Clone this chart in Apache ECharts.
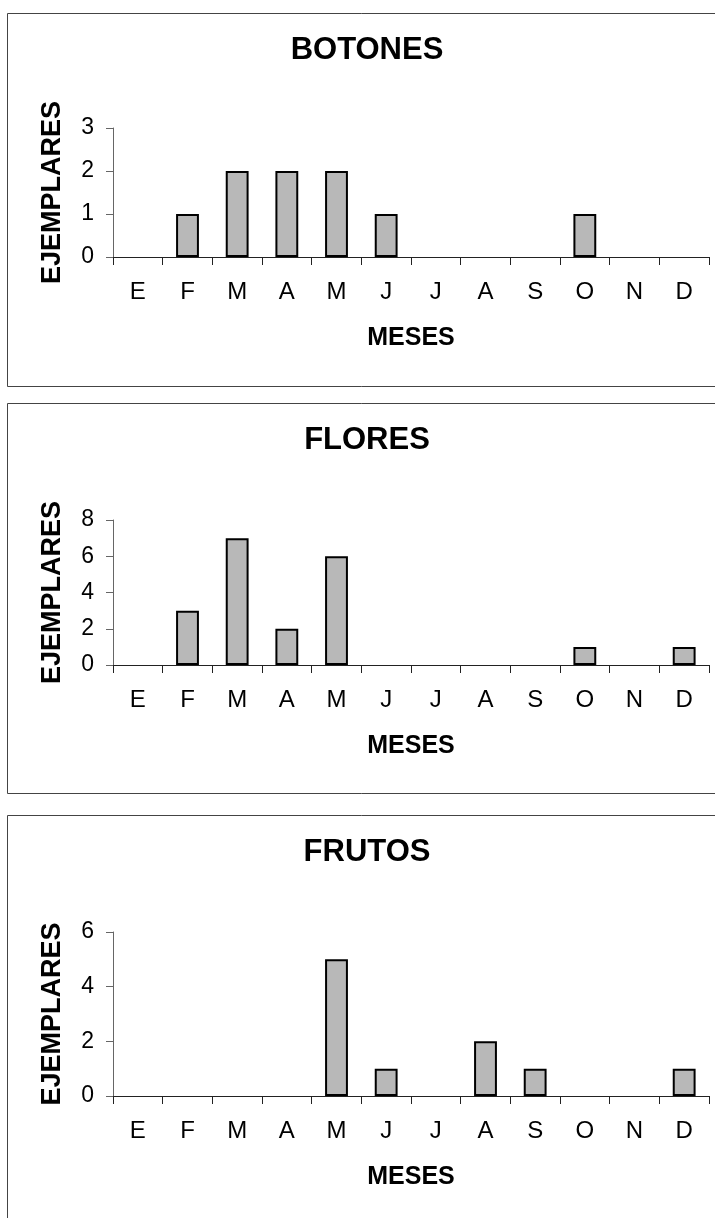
<!DOCTYPE html>
<html>
<head>
<meta charset="utf-8">
<title>Fenología: botones, flores y frutos</title>
<script src="https://cdn.jsdelivr.net/npm/echarts@6/dist/echarts.min.js"></script>
<style>
  html, body { margin: 0; padding: 0; background: #fff; }
  #chart { width: 715px; height: 1218px; }
</style>
</head>
<body>
<div id="chart"></div>
<script>
// Meses del año (iniciales)
const meses = ['E', 'F', 'M', 'A', 'M', 'J', 'J', 'A', 'S', 'O', 'N', 'D'];

// Número de ejemplares por mes en cada fase
const botones = [0, 1, 2, 2, 2, 1, 0, 0, 0, 1, 0, 0];
const flores  = [0, 3, 7, 2, 6, 0, 0, 0, 0, 1, 0, 1];
const frutos  = [0, 0, 0, 0, 5, 1, 0, 2, 1, 0, 0, 1];

const titulos = ['BOTONES', 'FLORES', 'FRUTOS'];
const series = [botones, flores, frutos];

// Escala del eje Y de cada panel
const yMax = [3, 8, 6];
const yStep = [1, 2, 2];

const FONT = '"Liberation Sans", Arial, Helvetica, sans-serif';

// Marco de cada panel y su rejilla de trazado
const paneles = [
  { top: 13,  bottom: 386,  gridTop: 128, gridH: 129 },
  { top: 403, bottom: 793,  gridTop: 520, gridH: 145 },
  { top: 815, bottom: 1240, gridTop: 932, gridH: 164 }
];

// Las barras de valor cero no dibujan contorno
function barras(d) {
  return d.map(v => v === 0
    ? { value: v, itemStyle: { borderWidth: 0, color: 'transparent' } }
    : v);
}

const chart = echarts.init(document.getElementById('chart'), null, { renderer: 'canvas' });

const option = {
  backgroundColor: '#ffffff',
  animation: false,
  textStyle: { fontFamily: FONT },
  title: paneles.map((p, i) => ({
    text: titulos[i],
    left: 367,
    top: p.top + 22,
    textAlign: 'center',
    padding: 0,
    textStyle: { fontFamily: FONT, fontSize: 31, fontWeight: 'bold', color: '#000' }
  })),
  graphic: paneles.map(p => ({
    type: 'rect',
    shape: { x: 7.5, y: p.top + 0.5, width: 730, height: p.bottom - p.top },
    style: { fill: 'none', stroke: '#444', lineWidth: 1 },
    silent: true,
    z: -1
  })),
  grid: paneles.map(p => ({
    left: 113,
    width: 596,
    top: p.gridTop,
    height: p.gridH,
    containLabel: false
  })),
  xAxis: paneles.map((p, i) => ({
    type: 'category',
    gridIndex: i,
    data: meses,
    boundaryGap: true,
    name: 'MESES',
    nameLocation: 'middle',
    nameGap: 69,
    nameTextStyle: { fontFamily: FONT, fontSize: 25, fontWeight: 'bold', color: '#000' },
    axisLine: { show: true, lineStyle: { color: '#222', width: 1 } },
    axisTick: { show: true, length: 8, inside: false, lineStyle: { color: '#222', width: 1 } },
    axisLabel: { margin: 23, fontFamily: FONT, fontSize: 24, color: '#000' },
    splitLine: { show: false }
  })),
  yAxis: paneles.map((p, i) => ({
    type: 'value',
    gridIndex: i,
    min: 0,
    max: yMax[i],
    interval: yStep[i],
    name: 'EJEMPLARES',
    nameLocation: 'middle',
    nameRotate: 90,
    nameGap: 47,
    nameTextStyle: { fontFamily: FONT, fontSize: 27, fontWeight: 'bold', color: '#000' },
    axisLine: { show: true, lineStyle: { color: '#666', width: 1 } },
    axisTick: { show: true, length: 7, inside: false, lineStyle: { color: '#666', width: 1 } },
    axisLabel: { margin: 19, fontFamily: FONT, fontSize: 23, color: '#000' },
    splitLine: { show: false }
  })),
  series: series.map((d, i) => ({
    type: 'bar',
    xAxisIndex: i,
    yAxisIndex: i,
    data: barras(d),
    barWidth: '46%',
    itemStyle: { color: '#b8b8b8', borderColor: '#000', borderWidth: 2 }
  }))
};

chart.setOption(option);
</script>
</body>
</html>
